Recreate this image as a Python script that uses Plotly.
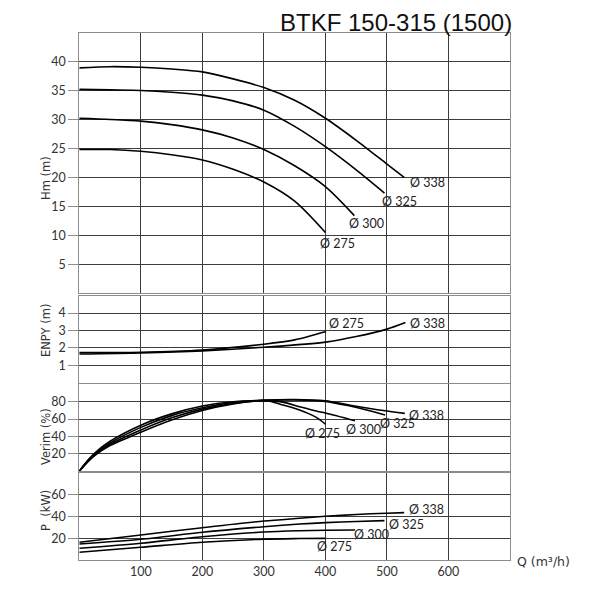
import plotly.graph_objects as go

# ---- values (Q in m3/h) ----
q_ticks = [100, 200, 300, 400, 500, 600]

# Hm (m)
hm_ticks = [5, 10, 15, 20, 25, 30, 35, 40]
q_hm_338 = [0, 50, 100, 150, 200, 250, 300, 350, 400, 450, 500, 528]
hm_338 = [38.9, 39.1, 39.0, 38.7, 38.2, 37.0, 35.5, 33.3, 30.2, 26.4, 22.3, 20.0]
q_hm_325 = [0, 50, 100, 150, 200, 250, 300, 350, 400, 450, 496]
hm_325 = [35.2, 35.1, 35.0, 34.7, 34.2, 33.2, 31.6, 28.8, 25.3, 21.3, 17.3]
q_hm_300 = [0, 50, 100, 150, 200, 250, 300, 350, 400, 447]
hm_300 = [30.2, 30.0, 29.7, 29.1, 28.2, 26.8, 24.8, 22.0, 18.4, 13.4]
q_hm_275 = [0, 50, 100, 150, 200, 250, 300, 350, 400]
hm_275 = [24.8, 24.8, 24.5, 23.9, 23.0, 21.4, 19.2, 15.9, 10.5]

# ENPY (m)
npsh_ticks = [1, 2, 3, 4]
q_npsh_275 = [0, 100, 200, 300, 350, 401]
npsh_275 = [1.73, 1.75, 1.88, 2.21, 2.46, 2.94]
q_npsh_338 = [0, 100, 200, 300, 400, 450, 500, 530]
npsh_338 = [1.65, 1.71, 1.83, 2.04, 2.33, 2.65, 3.08, 3.46]

# Verim (%)
eff_ticks = [20, 40, 60, 80]
q_eff_275 = [0, 10, 25, 50, 100, 150, 200, 250, 280, 309, 331, 358, 385, 400]
eff_275 = [0, 9.5, 21, 34.5, 53, 66, 75, 80, 81, 80.5, 76.2, 70.4, 62, 54.3]
q_eff_300 = [0, 10, 25, 50, 100, 150, 200, 250, 300, 331, 358, 385, 400, 448]
eff_300 = [0, 9, 20, 32.5, 50.5, 64, 73, 79, 81.5, 79.5, 74.3, 69.3, 67, 58.2]
q_eff_325 = [0, 10, 25, 50, 100, 150, 200, 250, 300, 350, 400, 440, 467, 497]
eff_325 = [0, 8.5, 19, 31, 47.5, 61.5, 71.5, 78, 81.5, 82, 80.4, 75, 70.5, 64.7]
q_eff_338 = [0, 10, 25, 50, 100, 150, 200, 250, 300, 350, 400, 440, 494, 529]
eff_338 = [0, 8, 18, 29.5, 45, 59, 70, 77.5, 81.5, 82.5, 81, 76, 69.8, 66.6]

# P (kW)
p_ticks = [20, 40, 60]
q_p_338 = [0, 100, 200, 300, 358, 400, 450, 500, 528]
p_338 = [16.3, 23.1, 29.8, 36.0, 38.5, 40.3, 42.0, 43.2, 43.7]
q_p_325 = [0, 100, 200, 300, 358, 400, 450, 496]
p_325 = [14.8, 19.1, 25.6, 30.7, 33.2, 34.5, 35.5, 36.3]
q_p_300 = [0, 100, 200, 300, 358, 400, 448]
p_300 = [10.8, 15.4, 21.5, 25.8, 27.0, 27.5, 27.7]
q_p_275 = [0, 100, 200, 300, 358, 400]
p_275 = [7.1, 11.7, 16.4, 19.2, 19.8, 20.0]

# ---- styling ----
FONT = "Lato"
WIDE_FONT = "DejaVu Sans"
TEXT = "#333333"
GRID = "#3c3c3c"
EDGE = "#8c8c8c"
PAGE_OFFSET = 8  # the html body margin shifts the figure by 8px


def fx(px):
    # pixel column of the original drawing -> paper x
    return (px - PAGE_OFFSET) / 600


def fy(py):
    # pixel row of the original drawing -> paper y
    return 1 - (py - PAGE_OFFSET) / 600


X_DOMAIN = [fx(79.3), fx(510)]

# axis suffix, y domain, y range, y ticks, curves (q, values, label, label shift px)
panels = [
    ("", [fy(293.3), fy(32.5)], [0, 45], hm_ticks, [
        (q_hm_338, hm_338, "Ø 338", (4, -5)),
        (q_hm_325, hm_325, "Ø 325", (-4, -8)),
        (q_hm_300, hm_300, "Ø 300", (-7, -8)),
        (q_hm_275, hm_275, "Ø 275", (-7, -11)),
    ]),
    ("2", [fy(382.7), fy(295.7)], [0, 5], npsh_ticks, [
        (q_npsh_275, npsh_275, "Ø 275", (1, 8)),
        (q_npsh_338, npsh_338, "Ø 338", (3, -1)),
    ]),
    ("3", [fy(471.3), fy(384.3)], [0, 100], eff_ticks, [
        (q_eff_275, eff_275, "Ø 275", (-22, -9)),
        (q_eff_300, eff_300, "Ø 300", (-11, -9)),
        (q_eff_325, eff_325, "Ø 325", (-7, -8)),
        (q_eff_338, eff_338, "Ø 338", (2, -2)),
    ]),
    ("4", [fy(560), fy(473.3)], [0, 80], p_ticks, [
        (q_p_338, p_338, "Ø 338", (3, 3)),
        (q_p_325, p_325, "Ø 325", (3, -4)),
        (q_p_300, p_300, "Ø 300", (-3, -5)),
        (q_p_275, p_275, "Ø 275", (-10, -8)),
    ]),
]

fig = go.Figure()
annotations = []
axes = {}

for suffix, dom, yrange, yticks, curves in panels:
    for q, vals, label, (sx, sy) in curves:
        fig.add_trace(go.Scatter(
            x=q, y=vals, mode="lines",
            line=dict(color="black", width=1.6, shape="spline", smoothing=0.8),
            xaxis="x" + suffix, yaxis="y" + suffix,
            hoverinfo="skip", showlegend=False,
        ))
        annotations.append(dict(
            x=q[-1], y=vals[-1], xref="x" + suffix, yref="y" + suffix,
            text=label, showarrow=False, xanchor="left", yanchor="middle",
            xshift=sx, yshift=sy, font=dict(family=FONT, size=12.5, color="#222222"),
        ))

    axes["xaxis" + suffix] = dict(
        domain=X_DOMAIN, range=[0, 700], anchor="y" + suffix, automargin=False,
        tickvals=q_ticks, showticklabels=(suffix == "4"), ticks="",
        showgrid=True, gridcolor=GRID, gridwidth=1, zeroline=False,
        showline=True, mirror=True, linecolor=EDGE, linewidth=1,
        tickfont=dict(family=FONT, size=12.5, color=TEXT),
    )
    axes["yaxis" + suffix] = dict(
        domain=dom, range=yrange, anchor="x" + suffix, automargin=False,
        tickvals=yticks, ticks="outside", ticklen=10, tickcolor=EDGE, tickwidth=1,
        showgrid=True, gridcolor=GRID, gridwidth=1, zeroline=False,
        showline=True, mirror=True, linecolor=EDGE, linewidth=1,
        tickfont=dict(family=FONT, size=12.5, color=TEXT),
    )

# axis titles placed like the original drawing
side_titles = [("Hm (m)", 178), ("ENPY (m)", 331), ("Verim (%)", 437), ("P  (kW)", 511)]
for text, ypix in side_titles:
    annotations.append(dict(
        x=fx(46), y=fy(ypix), xref="paper", yref="paper",
        text=text, textangle=-90, showarrow=False,
        xanchor="center", yanchor="middle",
        font=dict(family=WIDE_FONT, size=11.5, color=TEXT),
    ))

annotations.append(dict(
    x=fx(515), y=fy(561), xref="paper", yref="paper",
    text="Q (m³/h)", showarrow=False, xanchor="left", yanchor="middle",
    font=dict(family=WIDE_FONT, size=12.5, color=TEXT),
))

annotations.append(dict(
    x=fx(513), y=1, xref="paper", yref="paper", borderpad=0,
    text="BTKF 150-315 (1500)", showarrow=False, xanchor="right", yanchor="top",
    font=dict(family="Liberation Sans", size=24, color="#111111"),
))

fig.update_layout(
    width=600, height=600,
    margin=dict(l=0, r=0, t=0, b=0),
    paper_bgcolor="white", plot_bgcolor="white",
    annotations=annotations,
    **axes,
)

fig.write_html("out.html")
